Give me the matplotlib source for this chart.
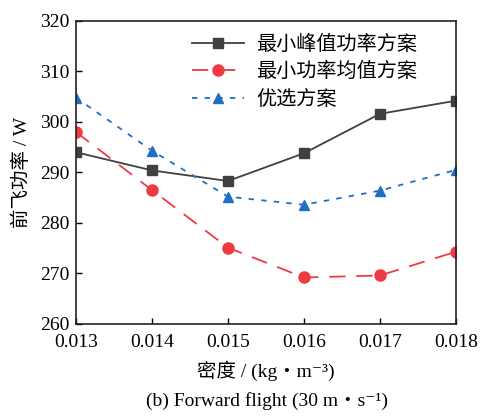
import matplotlib
matplotlib.use("Agg")
import matplotlib.pyplot as plt

plt.rcParams['font.family'] = ['Liberation Serif', 'Noto Sans CJK SC', 'DejaVu Sans']

density = [0.013, 0.014, 0.015, 0.016, 0.017, 0.018]
peak_min = [294.0, 290.4, 288.3, 293.8, 301.6, 304.2]
mean_min = [298.0, 286.5, 275.1, 269.2, 269.6, 274.3]
preferred = [304.8, 294.3, 285.2, 283.6, 286.4, 290.5]
labels = ["最小峰值功率方案", "最小功率均值方案", "优选方案"]
xticks = [0.013, 0.014, 0.015, 0.016, 0.017, 0.018]
yticks = [260, 270, 280, 290, 300, 310, 320]

fig = plt.figure(figsize=(4.81, 4.18), dpi=100)
ax = fig.add_axes([0.158, 0.225, 0.79, 0.725])

ax.plot(density, peak_min, color="#404040", lw=1.3, marker="s", ms=7,
        label=labels[0])
ax.plot(density, mean_min, color="#ee3a43", lw=1.3, marker="o", ms=8,
        dashes=(9, 6), label=labels[1])
ax.plot(density, preferred, color="#1f6fc4", lw=1.3, marker="^", ms=7,
        dashes=(3, 4), label=labels[2])

ax.set_xlim(0.013, 0.018)
ax.set_ylim(260, 320)
ax.set_xticks(xticks)
ax.set_xticklabels(["%.3f" % v for v in xticks])
ax.set_yticks(yticks)
ax.tick_params(direction="in", length=4, width=1, labelsize=14)
ax.tick_params(axis="x", pad=7)
ax.tick_params(axis="y", pad=5)
for s in ax.spines.values():
    s.set_linewidth(1.2)
    s.set_color("#222222")

ax.set_ylabel("前飞功率 / W", fontsize=14, labelpad=6)
ax.set_xlabel("密度 / (kg・m⁻³)", fontsize=14, labelpad=7)

leg = ax.legend(loc="upper right", frameon=False, fontsize=14.5,
                handlelength=2.6, labelspacing=0.4, borderaxespad=0.2,
                handletextpad=0.6, bbox_to_anchor=(0.93, 0.99))

fig.text(0.555, 0.03, "(b) Forward flight (30 m・s⁻¹)", ha="center",
         fontsize=14)

fig.savefig("out.png", dpi=100)
